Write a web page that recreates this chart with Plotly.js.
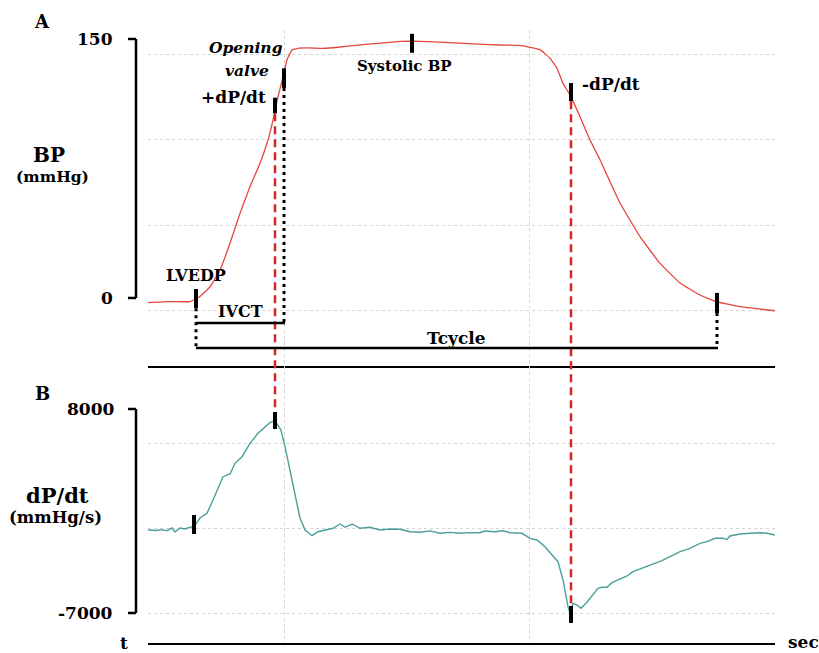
<!DOCTYPE html>
<html>
<head>
<meta charset="utf-8">
<script src="https://cdn.plot.ly/plotly-3.0.1.min.js"></script>
<style>html,body{margin:0;padding:0;background:#fff;}#chart{width:819px;height:653px;}</style>
</head>
<body>
<div id="chart"></div>
<script>
// ---- Data (time in ms from left edge of the trace window) ----
var bpTime = [0, 20, 42, 52, 62, 72, 82, 92, 102, 112, 120, 125, 130, 135, 139, 144, 150, 160, 175, 190, 205, 230, 252, 264, 280, 302, 330, 352, 372, 392, 402, 409, 415, 422, 432, 442, 452, 472, 492, 512, 532, 552, 568, 592, 627];
var bpValues = [-2.7, -2.1, -2.1, 0.8, 6.5, 16.2, 31.7, 49, 64.5, 78, 91.5, 103, 116.6, 128, 138, 143.6, 144.6, 144.8, 144.6, 145.2, 146.2, 147.5, 148.6, 148.8, 148.5, 147.9, 147, 146.5, 146.3, 143.8, 138.8, 133, 124.3, 117.6, 105, 91.5, 80, 55, 35.5, 20, 8.7, 1.7, -2.1, -5, -7.4];

var dpdtTime = [0, 8, 14, 19, 24, 27, 32, 37, 42, 46, 52, 59, 65, 70, 75, 82, 87, 94, 102, 110, 117, 122, 127, 133, 137, 142, 147, 152, 157, 164, 170, 177, 185, 192, 197, 204, 212, 222, 232, 242, 252, 262, 272, 282, 292, 302, 312, 322, 332, 337, 347, 355, 362, 374, 382, 389, 397, 405, 410, 415, 418, 420, 422, 425, 429, 433, 438, 443, 450, 454, 459, 464, 470, 479, 485, 494, 504, 514, 522, 532, 542, 552, 559, 567, 575, 579, 582, 592, 602, 612, 619, 627];
var dpdtValues = [-897, -930, -870, -949, -750, -1044, -750, -820, -698, -654, -15, 330, 1309, 2191, 3022, 3221, 4007, 4493, 5478, 6213, 6699, 6993, 7140, 6456, 5228, 3515, 1801, -15, -897, -1316, -1022, -897, -772, -456, -698, -456, -772, -700, -897, -824, -846, -1022, -1066, -960, -1140, -1070, -1140, -1090, -1100, -970, -1022, -949, -1096, -1140, -1508, -1632, -2125, -2809, -3228, -4573, -5801, -6537, -7023, -6287, -6410, -6655, -6287, -5801, -5184, -5110, -5110, -4772, -4573, -4279, -3963, -3713, -3397, -3155, -2860, -2493, -2243, -1875, -1757, -1508, -1508, -1600, -1338, -1191, -1140, -1096, -1140, -1265];

// key event times (ms) and levels
var tLVEDP = 48, tMaxDpdt = 127, tValve = 136, tSystolic = 264, tMinDpdt = 423, tEnd = 569;
var bpTickLabels = [150, 0];
var dpdtTickLabels = [8000, -7000];

// ---- Geometry ----
var W = 819, H = 653;
function px2fx(p){ return p / W; }
function px2fy(p){ return (H - p) / H; }
var xDom = [px2fx(148), px2fx(775)];
var domTop = [px2fy(366), px2fy(30)];
var domBot = [px2fy(643), px2fy(366)];
var rngTop = [-39.4, 155.2];
var rngBot = [-9206, 11162];
function topPaper(v){ return domTop[0] + (v - rngTop[0]) / (rngTop[1] - rngTop[0]) * (domTop[1] - domTop[0]); }
function botPaper(v){ return domBot[0] + (v - rngBot[0]) / (rngBot[1] - rngBot[0]) * (domBot[1] - domBot[0]); }

var FONT = 'DejaVu Serif';
var gridStyle = {showgrid: true, gridcolor: '#d4d4d4', griddash: 'dot', gridwidth: 1, ticks: ''};

var traces = [
  {x: bpTime, y: bpValues, xaxis: 'x', yaxis: 'y', type: 'scatter', mode: 'lines',
   line: {color: '#e5473e', width: 1.3, shape: 'spline', smoothing: 0.3}, hoverinfo: 'skip'},
  {x: dpdtTime, y: dpdtValues, xaxis: 'x2', yaxis: 'y2', type: 'scatter', mode: 'lines',
   line: {color: '#4b9f9b', width: 1.4}, hoverinfo: 'skip'}
];

var shapes = [];
function bar(xref, yref, t, v0, v1){
  shapes.push({type: 'line', xref: xref, yref: yref, x0: t, x1: t, y0: v0, y1: v1, line: {color: '#000', width: 4}});
}
function dotted(t, v0, v1){
  shapes.push({type: 'line', xref: 'x', yref: 'y', x0: t, x1: t, y0: v0, y1: v1, line: {color: '#000', width: 3, dash: '3px,4px'}});
}
function hline(t0, t1, v){
  shapes.push({type: 'line', xref: 'x', yref: 'y', x0: t0, x1: t1, y0: v, y1: v, line: {color: '#000', width: 2.5}});
}
// brackets (y-axis scales)
function bracket(yref, vTop, vBot){
  var xb = px2fx(136), xt = px2fx(128);
  shapes.push({type: 'line', xref: 'paper', yref: yref, x0: xb, x1: xb, y0: vBot, y1: vTop, line: {color: '#000', width: 2.5}});
  shapes.push({type: 'line', xref: 'paper', yref: yref, x0: xt, x1: xb, y0: vTop, y1: vTop, line: {color: '#000', width: 2.5}});
  shapes.push({type: 'line', xref: 'paper', yref: yref, x0: xt, x1: xb, y0: vBot, y1: vBot, line: {color: '#000', width: 2.5}});
}
bracket('y', bpTickLabels[0], bpTickLabels[1]);
bracket('y2', dpdtTickLabels[0], dpdtTickLabels[1]);

// red dashed connectors
shapes.push({type: 'line', xref: 'x', yref: 'paper', x0: tMaxDpdt, x1: tMaxDpdt, y0: topPaper(107), y1: botPaper(8000),
  line: {color: '#d42626', width: 2.5, dash: '8px,5px'}});
shapes.push({type: 'line', xref: 'x', yref: 'paper', x0: tMinDpdt, x1: tMinDpdt, y0: topPaper(114), y1: botPaper(-6485),
  line: {color: '#d42626', width: 2.5, dash: '8px,5px'}});

// dotted drop lines and intervals
dotted(tLVEDP, -6, -29);
dotted(tValve, 121.6, -14.5);
dotted(tEnd, -8.7, -27.5);
hline(tLVEDP, tValve + 1, -14.5);
hline(tLVEDP, tEnd + 1, -29);

// event markers
bar('x', 'y', tLVEDP, 5.2, -5.8);
bar('x', 'y', tMaxDpdt, 116, 107);
bar('x', 'y', tValve, 133, 121.6);
bar('x', 'y', tSystolic, 153, 142);
bar('x', 'y', tMinDpdt, 124.5, 114);
bar('x', 'y', tEnd, 2.9, -8.7);
bar('x2', 'y2', 46, 205, -1190);
bar('x2', 'y2', tMaxDpdt, 7780, 6530);
bar('x2', 'y2', tMinDpdt, -6485, -7735);

function ann(text, x, y, opts){
  var a = {text: text, x: x, y: y, xref: 'paper', yref: 'paper', showarrow: false,
    xanchor: 'center', yanchor: 'middle', font: {family: FONT, size: 15, color: '#000'}};
  for (var k in opts){ a[k] = opts[k]; }
  return a;
}
function f(s){ return {family: FONT, size: s, color: '#000'}; }
var annotations = [
  ann('<b>A</b>', px2fx(42), px2fy(22), {font: f(18)}),
  ann('<b>B</b>', px2fx(42), px2fy(393), {font: f(18)}),
  ann('<b>' + bpTickLabels[0] + '</b>', px2fx(115), bpTickLabels[0], {yref: 'y', xanchor: 'right', font: f(17)}),
  ann('<b>' + bpTickLabels[1] + '</b>', px2fx(115), bpTickLabels[1], {yref: 'y', xanchor: 'right', font: f(17)}),
  ann('<b>' + dpdtTickLabels[0] + '</b>', px2fx(116), dpdtTickLabels[0], {yref: 'y2', xanchor: 'right', font: f(17)}),
  ann('<b>' + dpdtTickLabels[1] + '</b>', px2fx(115), dpdtTickLabels[1], {yref: 'y2', xanchor: 'right', font: f(17)}),
  ann('<b>BP</b>', px2fx(49), px2fy(155), {font: f(20)}),
  ann('<b>(mmHg)</b>', px2fx(52), px2fy(176), {font: f(15.5)}),
  ann('<b>dP/dt</b>', px2fx(57), px2fy(495), {font: f(21)}),
  ann('<b>(mmHg/s)</b>', px2fx(55), px2fy(517), {font: f(16.5)}),
  ann('<b>t</b>', px2fx(124), px2fy(643), {font: f(17)}),
  ann('<b>sec</b>', px2fx(803), px2fy(642), {font: f(17)}),
  ann('<b><i>Opening</i></b>', tValve + 1, 144.8, {xref: 'x', yref: 'y', xanchor: 'right', font: f(15.5)}),
  ann('<b><i>valve</i></b>', 123, 131.5, {xref: 'x', yref: 'y', xanchor: 'right', font: f(15.5)}),
  ann('<b>+dP/dt</b>', 120, 116.4, {xref: 'x', yref: 'y', xanchor: 'right', font: f(17)}),
  ann('<b>Systolic BP</b>', 256, 134.4, {xref: 'x', yref: 'y', font: f(15)}),
  ann('<b>-dP/dt</b>', 432, 124, {xref: 'x', yref: 'y', xanchor: 'left', font: f(17)}),
  ann('<b>LVEDP</b>', tLVEDP, 13.3, {xref: 'x', yref: 'y', font: f(16)}),
  ann('<b>IVCT</b>', 92, -8.1, {xref: 'x', yref: 'y', font: f(16)}),
  ann('<b>Tcycle</b>', 308, -23.2, {xref: 'x', yref: 'y', font: f(17)})
];

var xCommon = {domain: xDom, range: [0, 627], showticklabels: false, ticks: '', showgrid: false, zeroline: false,
  showline: true, linecolor: '#000', linewidth: 2,
  minor: Object.assign({tick0: 136, dtick: 245}, gridStyle)};
var layout = {
  width: W, height: H, margin: {l: 0, r: 0, t: 0, b: 0},
  paper_bgcolor: '#fff', plot_bgcolor: '#fff', showlegend: false,
  xaxis: Object.assign({}, xCommon, {anchor: 'y'}),
  xaxis2: Object.assign({}, xCommon, {anchor: 'y2', matches: 'x'}),
  yaxis: {domain: domTop, range: rngTop, showticklabels: false, ticks: '', showgrid: false, zeroline: false, showline: false,
    dtick: 1000, tick0: 1000,
    minor: Object.assign({tick0: -7.5, dtick: 49.5}, gridStyle)},
  yaxis2: {domain: domBot, range: rngBot, showticklabels: false, ticks: '', showgrid: false, zeroline: false, showline: false,
    dtick: 100000, tick0: 100000,
    minor: Object.assign({tick0: -7000, dtick: 6250}, gridStyle)},
  shapes: shapes,
  annotations: annotations
};
Plotly.newPlot('chart', traces, layout, {staticPlot: true, displayModeBar: false});
</script>
</body>
</html>
